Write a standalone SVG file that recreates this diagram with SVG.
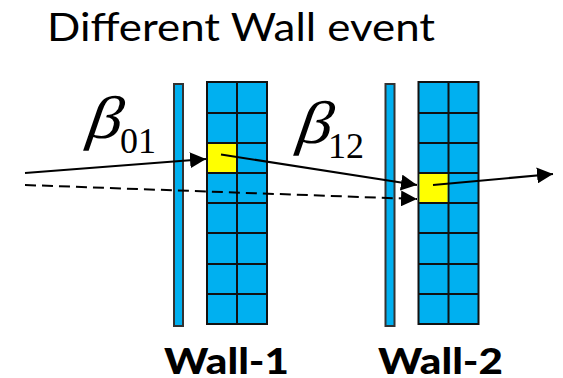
<svg xmlns="http://www.w3.org/2000/svg" width="563" height="378" viewBox="0 0 563 378">
<defs>
<marker id="a" markerUnits="userSpaceOnUse" markerWidth="18" markerHeight="16" refX="16" refY="8" orient="auto"><path d="M0 0L16 8L0 16Z" fill="#000"/></marker>
<g id="cells"><rect x="0" y="0" width="60" height="242" class="b"/><path class="g" d="M30 0V242M0 31H60M0 61H60M0 91H60M0 121H60M0 151H60M0 182H60M0 212H60"/></g>
</defs>
<style>
.b{fill:#00b0f0;stroke:#111;stroke-width:2}
.t{fill:#00b0f0;stroke:#333;stroke-width:2}
.g{fill:none;stroke:#111;stroke-width:2}
.y{fill:#ff0;stroke:none}
.c{fill:none;stroke:#000;stroke-width:2;marker-end:url(#a)}
.d{stroke-dasharray:11 6}
.l{font-family:Lato,"Open Sans",sans-serif;fill:#000}
.w{font-size:36px;font-weight:900}
.m{font-family:"Liberation Serif",serif;fill:#000}
.bt{font-size:60px;font-style:italic}
</style>
<text id="title" class="l" x="47" y="41" font-size="38" textLength="388" lengthAdjust="spacingAndGlyphs">Different Wall event</text>
<g id="wall-1">
<rect class="t" x="174" y="84" width="9" height="242"/>
<use href="#cells" x="207" y="82"/>
<rect class="y" x="208" y="144" width="28" height="28"/>
<text class="l w" x="164" y="374" textLength="125" lengthAdjust="spacingAndGlyphs">Wall-1</text>
</g>
<g id="wall-2">
<rect class="t" x="385.500" y="84" width="9" height="242"/>
<use href="#cells" x="418.500" y="82"/>
<rect class="y" x="419.500" y="174" width="28" height="28"/>
<text class="l w" x="378" y="374" textLength="125" lengthAdjust="spacingAndGlyphs">Wall-2</text>
</g>
<g id="beta-01"><text class="m bt" transform="translate(86 138) skewX(-8) scale(1.15 1)">β</text><text class="m" x="120" y="153" font-size="36">01</text></g>
<g id="beta-12"><text class="m bt" transform="translate(296 143) skewX(-8) scale(1.15 1)">β</text><text class="m" x="328" y="158" font-size="36">12</text></g>
<g id="connectors">
<path class="c" d="M25 173L206 159"/>
<path class="c" d="M221 154.500L417 185"/>
<path class="c" d="M433 185L553 174"/>
<path class="c d" d="M25 185L417 199"/>
</g>
</svg>
